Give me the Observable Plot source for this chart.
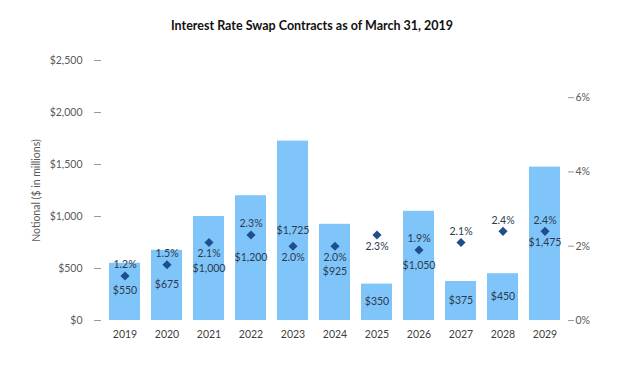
<!DOCTYPE html>
<html><head><meta charset="utf-8">
<script src="https://cdn.jsdelivr.net/npm/d3@7"></script>
<script src="https://cdn.jsdelivr.net/npm/@observablehq/plot@0.6"></script>
<style>
body{margin:0;background:#fff;font-family:Lato,"Open Sans",sans-serif;}
#title{height:40px;box-sizing:border-box;padding-top:16px;line-height:20px;font-size:12.5px;font-weight:bold;text-align:center;color:#111;}
</style></head><body>
<div id="title">Interest Rate Swap Contracts as of March 31, 2019</div>
<div id="chart"></div>
<script>
const years = ["2019","2020","2021","2022","2023","2024","2025","2026","2027","2028","2029"];
const notional = [550,675,1000,1200,1725,925,350,1050,375,450,1475];
const rates = [1.2,1.5,2.1,2.3,2.0,2.0,2.3,1.9,2.1,2.4,2.4];
const leftTicks = [0,500,1000,1500,2000,2500];
const rightTicks = [0,2,4,6];
const yLabel = "Notional ($ in millions)";

// label layout (pixel offsets from each diamond)
const pctDy = [-11,-11,11,-11,11,11,12,-11,-11,-11,-11];
const amtDy = [15,20,26,23,-16,25,67,16,58,65,11];

const Y_MAX = 2500, PCT_MAX = 7;
const pctToY = p => p * Y_MAX / PCT_MAX;
const data = years.map((year, i) => ({year, notional: notional[i], rate: rates[i], i}));
const fmtD = v => "$" + d3.format(",")(v);
const labelColor = "#2b3a4e";
const FS = 10.5;

const labelMarks = data.flatMap(d => [
  Plot.text([d], {x: "year", y: e => pctToY(e.rate), text: e => e.rate.toFixed(1) + "%", dy: pctDy[d.i], fontSize: FS, fill: labelColor}),
  Plot.text([d], {x: "year", y: e => pctToY(e.rate), text: e => fmtD(e.notional), dy: amtDy[d.i], fontSize: FS, fill: labelColor})
]);

const chart = Plot.plot({
  width: 624, height: 326,
  marginTop: 20, marginBottom: 46, marginLeft: 101, marginRight: 57,
  style: {fontFamily: "Lato, 'Open Sans', sans-serif", fontSize: FS + "px", background: "#fff"},
  x: {domain: years, paddingInner: 0.27, paddingOuter: 0.135, label: null},
  y: {domain: [0, Y_MAX], label: null},
  marks: [
    Plot.barY(data, {x: "year", y: "notional", fill: "#80c5fa"}),
    Plot.axisY(leftTicks, {anchor: "left", tickSize: 7, tickPadding: 12, tickFormat: fmtD, stroke: "#9a9a9a", fill: "#595959", fontSize: FS, label: yLabel, labelAnchor: "center", labelArrow: "none", labelOffset: 69}),
    Plot.axisY(rightTicks.map(pctToY), {anchor: "right", tickSize: 6, tickPadding: 2, tickFormat: v => Math.round(v * PCT_MAX / Y_MAX) + "%", stroke: "#9a9a9a", fill: "#595959", fontSize: FS, label: null}),
    Plot.axisX({tickSize: 0, tickPadding: 10, fill: "#404040", fontSize: FS, label: null}),
    Plot.dot(data, {x: "year", y: d => pctToY(d.rate), symbol: "diamond2", r: 4.1, fill: "#1f4e8c"}),
    ...labelMarks
  ]
});
document.getElementById("chart").appendChild(chart);
</script>
</body></html>
